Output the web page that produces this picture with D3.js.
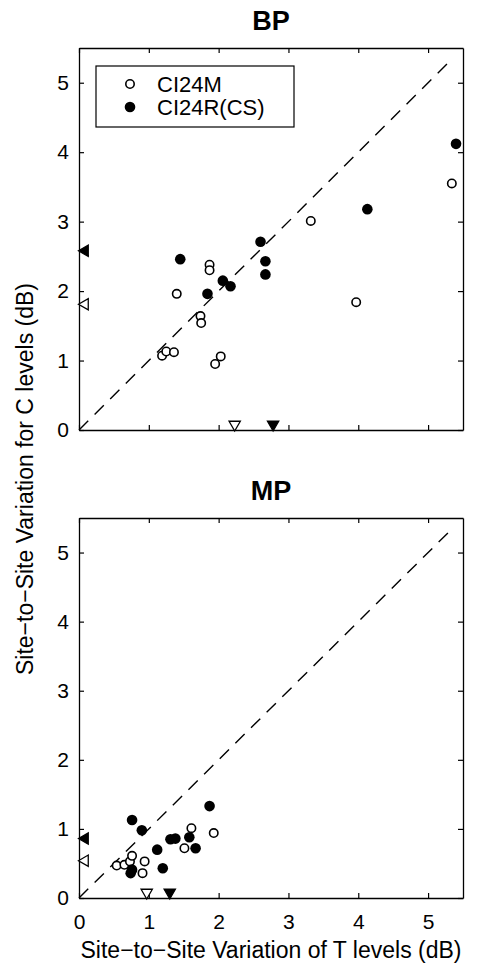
<!DOCTYPE html>
<html>
<head>
<meta charset="utf-8">
<script src="https://cdn.jsdelivr.net/npm/d3@7"></script>
<style>
  body { margin: 0; background: #fff; }
  text { font-family: "Liberation Sans", Arial, sans-serif; fill: #000; }
</style>
</head>
<body>
<script>
// data: site-to-site variation, T levels (x) and C levels (y), dB
var bpOpenT = [1.19, 1.25, 1.36, 1.40, 1.74, 1.75, 1.87, 1.87, 1.95, 2.03, 3.32, 3.97, 5.34];
var bpOpenC = [1.07, 1.13, 1.12, 1.96, 1.64, 1.54, 2.38, 2.30, 0.95, 1.06, 3.01, 1.84, 3.55];
var bpFilledT = [1.45, 1.84, 2.06, 2.17, 2.60, 2.67, 2.67, 4.13, 5.40];
var bpFilledC = [2.46, 1.96, 2.15, 2.07, 2.71, 2.43, 2.24, 3.18, 4.12];
var bpMeanT = [2.23, 2.78];   // open, filled
var bpMeanC = [1.81, 2.58];

var mpOpenT = [0.54, 0.65, 0.73, 0.76, 0.91, 0.94, 1.51, 1.61, 1.93];
var mpOpenC = [0.47, 0.48, 0.53, 0.61, 0.36, 0.53, 0.72, 1.01, 0.94];
var mpFilledT = [0.76, 0.90, 0.74, 0.76, 1.12, 1.20, 1.31, 1.38, 1.58, 1.67, 1.87];
var mpFilledC = [1.13, 0.98, 0.36, 0.41, 0.70, 0.43, 0.85, 0.86, 0.88, 0.72, 1.33];
var mpMeanT = [0.97, 1.30];
var mpMeanC = [0.54, 0.86];

var seriesNames = ["CI24M", "CI24R(CS)"];
var tickValues = [0, 1, 2, 3, 4, 5];
var lineEnd = 5.3;

var svgWidth = 483;
var svgHeight = 965;

var svg = d3.select("body")
  .append("svg")
  .attr("width", svgWidth)
  .attr("height", svgHeight);

function drawPanel(opts) {
  var left = 79, right = 463;
  var x = d3.scaleLinear().domain([0, 5.5]).range([left, right]);
  var y = d3.scaleLinear().domain([0, 5.5]).range([opts.bottom, opts.top]);
  var g = svg.append("g");

  // title
  g.append("text")
    .attr("x", (left + right) / 2)
    .attr("y", opts.top - 18)
    .attr("text-anchor", "middle")
    .style("font-size", "27px")
    .style("font-weight", "bold")
    .text(opts.title);

  // axes, ticks inside on all four sides
  var fmt = d3.format("d");
  var bottomAxis = d3.axisBottom(x).tickValues(tickValues).tickSizeInner(-5).tickSizeOuter(0).tickPadding(16).tickFormat(fmt);
  if (!opts.xLabels) bottomAxis.tickFormat("");
  var leftAxis = d3.axisLeft(y).tickValues(tickValues).tickSizeInner(-5).tickSizeOuter(0).tickPadding(10).tickFormat(fmt);
  var topAxis = d3.axisTop(x).tickValues(tickValues).tickSizeInner(-5).tickSizeOuter(0).tickFormat("");
  var rightAxis = d3.axisRight(y).tickValues(tickValues).tickSizeInner(-5).tickSizeOuter(0).tickFormat("");

  var axes = [
    [bottomAxis, "translate(0," + opts.bottom + ")"],
    [leftAxis, "translate(" + left + ",0)"],
    [topAxis, "translate(0," + opts.top + ")"],
    [rightAxis, "translate(" + right + ",0)"]
  ];
  axes.forEach(function(a) {
    var ag = g.append("g").attr("transform", a[1]).call(a[0]);
    ag.selectAll("path").attr("stroke", "#000").attr("stroke-width", 1.3);
    ag.selectAll("line").attr("stroke", "#000").attr("stroke-width", 1.2);
    ag.selectAll("text").style("font-size", "21px").attr("fill", "#000");
  });

  // diagonal
  g.append("line")
    .attr("x1", x(0)).attr("y1", y(0))
    .attr("x2", x(lineEnd)).attr("y2", y(lineEnd))
    .attr("stroke", "#000")
    .attr("stroke-width", 1.4)
    .attr("stroke-dasharray", "13,9");

  // points
  var open = opts.openT.map(function(v, i) { return [v, opts.openC[i]]; });
  var filled = opts.filledT.map(function(v, i) { return [v, opts.filledC[i]]; });

  g.selectAll(".open").data(open).enter().append("circle")
    .attr("cx", function(d) { return x(d[0]); })
    .attr("cy", function(d) { return y(d[1]); })
    .attr("r", 4.2)
    .attr("fill", "#fff")
    .attr("stroke", "#000")
    .attr("stroke-width", 1.6);

  g.selectAll(".filled").data(filled).enter().append("circle")
    .attr("cx", function(d) { return x(d[0]); })
    .attr("cy", function(d) { return y(d[1]); })
    .attr("r", 5.3)
    .attr("fill", "#000");

  // mean markers on the axes
  var tri = d3.symbol().type(d3.symbolTriangle).size(55);
  opts.meanC.forEach(function(v, i) {
    g.append("path")
      .attr("d", tri())
      .attr("transform", "translate(" + (x(0) + 6) + "," + y(v) + ") rotate(-90)")
      .attr("fill", i === 0 ? "#fff" : "#000")
      .attr("stroke", "#000")
      .attr("stroke-width", 1.3);
  });
  opts.meanT.forEach(function(v, i) {
    g.append("path")
      .attr("d", tri())
      .attr("transform", "translate(" + x(v) + "," + (y(0) - 5.5) + ") rotate(180)")
      .attr("fill", i === 0 ? "#fff" : "#000")
      .attr("stroke", "#000")
      .attr("stroke-width", 1.3);
  });

  return { x: x, y: y, g: g };
}

drawPanel({
  title: "BP", top: 48, bottom: 430, xLabels: false,
  openT: bpOpenT, openC: bpOpenC, filledT: bpFilledT, filledC: bpFilledC,
  meanT: bpMeanT, meanC: bpMeanC
});

drawPanel({
  title: "MP", top: 518, bottom: 898, xLabels: true,
  openT: mpOpenT, openC: mpOpenC, filledT: mpFilledT, filledC: mpFilledC,
  meanT: mpMeanT, meanC: mpMeanC
});

// legend
var legend = svg.append("g");
legend.append("rect")
  .attr("x", 96).attr("y", 66)
  .attr("width", 198).attr("height", 61)
  .attr("fill", "#fff")
  .attr("stroke", "#000")
  .attr("stroke-width", 1.2);
seriesNames.forEach(function(name, i) {
  var cy = 84 + i * 23;
  legend.append("circle")
    .attr("cx", 130).attr("cy", cy)
    .attr("r", i === 0 ? 4.2 : 5.3)
    .attr("fill", i === 0 ? "#fff" : "#000")
    .attr("stroke", i === 0 ? "#000" : "none")
    .attr("stroke-width", 1.6);
  legend.append("text")
    .attr("x", 157).attr("y", cy + 8)
    .style("font-size", "22px")
    .text(name);
});

// axis titles
svg.append("text")
  .attr("x", 271)
  .attr("y", 958)
  .attr("text-anchor", "middle")
  .style("font-size", "23px")
  .text("Site\u2212to\u2212Site Variation of T levels (dB)");

svg.append("text")
  .attr("transform", "translate(33,479) rotate(-90)")
  .attr("text-anchor", "middle")
  .style("font-size", "23px")
  .text("Site\u2212to\u2212Site Variation for C levels (dB)");
</script>
</body>
</html>
